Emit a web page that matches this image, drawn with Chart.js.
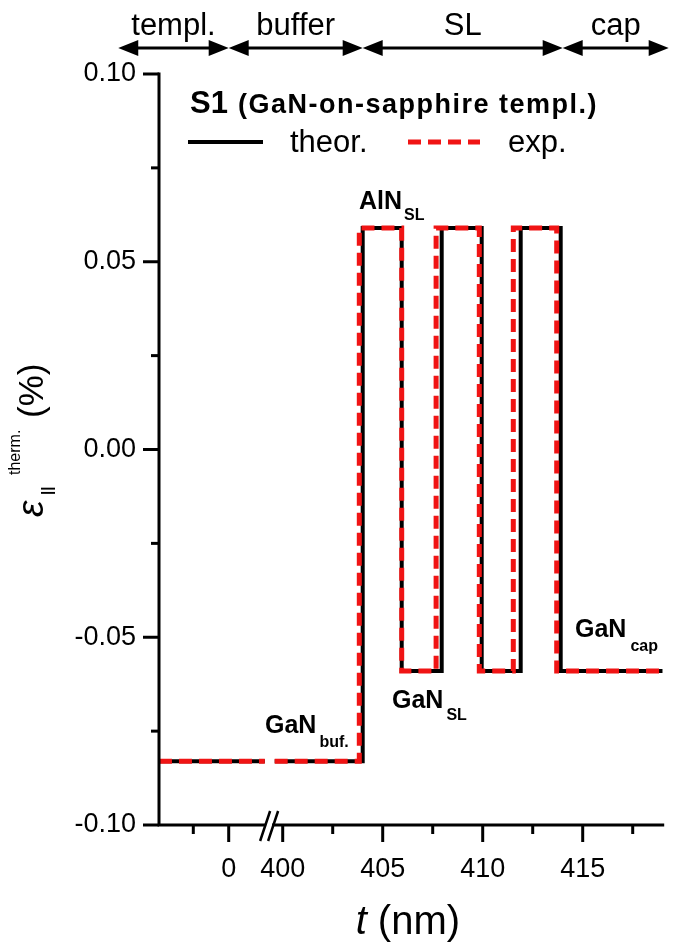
<!DOCTYPE html>
<html>
<head>
<meta charset="utf-8">
<script src="https://cdn.jsdelivr.net/npm/chart.js@4.4.0/dist/chart.umd.min.js"></script>
<style>
  html, body { margin: 0; padding: 0; background: #fff; }
  #wrap { width: 685px; height: 950px; position: relative; }
</style>
</head>
<body>
<div id="wrap"><canvas id="chart"></canvas></div>
<script>
// step profiles: t (nm) where a layer starts, and its strain (%)
// null strain = gap in the line at the axis break
const theorT = [-197, 102, 399.3, 399.6, 404.0, 405.95, 407.95, 409.95, 411.9, 413.9, 419.0];
const theorE = [-0.083, -0.083, null, -0.083, 0.059, -0.059, 0.059, -0.059, 0.059, -0.059, -0.059];
const expT   = [-197, 102, 399.3, 399.6, 403.83, 405.95, 407.67, 409.83, 411.53, 413.7, 419.0];
const expE   = [-0.083, -0.083, null, -0.083, 0.059, -0.059, 0.059, -0.059, 0.059, -0.059, -0.059];

const xMajor = [0, 400, 405, 410, 415];
const xMinor = [-100, 402.5, 407.5, 412.5, 417.5];
const yMajor = [-0.10, -0.05, 0.00, 0.05, 0.10];
const yMinor = [-0.075, -0.025, 0.025, 0.075];

const regionNames = ['templ.', 'buffer', 'SL', 'cap'];
const regionEdges = [-312, 0, 404, 414, 419.3];

// broken axis: template part is compressed, right part is in nm
const LEFT_ZERO = 397.3, LEFT_SCALE = 0.0177, SPLIT = 200;
const BREAK_U = 399.32;
function toAxis(t) { return t > SPLIT ? t : LEFT_ZERO + t * LEFT_SCALE; }

const F = "'Liberation Sans', Arial, sans-serif";
const RED = '#f01414';

function pts(ts, es) {
  return ts.map((t, i) => ({ x: toAxis(t), y: es[i] }));
}

function rich(ctx, x, y, parts) {
  ctx.textAlign = 'left';
  ctx.textBaseline = 'alphabetic';
  parts.forEach(p => {
    ctx.font = p.font;
    ctx.letterSpacing = p.ls || '0px';
    x += p.gap || 0;
    ctx.fillText(p.s, x, y + (p.dy || 0));
    x += ctx.measureText(p.s).width;
  });
  ctx.letterSpacing = '0px';
  return x;
}

function head(ctx, x, y, dir) {
  ctx.beginPath();
  ctx.moveTo(x, y);
  ctx.lineTo(x - dir * 20, y - 8);
  ctx.lineTo(x - dir * 20, y + 8);
  ctx.closePath();
  ctx.fill();
}

const decor = {
  id: 'decor',
  afterDraw(chart) {
    const ctx = chart.ctx;
    const xs = chart.scales.x, ys = chart.scales.y;
    const { left, right, top, bottom } = chart.chartArea;
    ctx.save();
    ctx.fillStyle = '#000';
    ctx.strokeStyle = '#000';
    ctx.lineCap = 'square';
    ctx.lineWidth = 3;

    // axes
    ctx.beginPath();
    ctx.moveTo(left, top); ctx.lineTo(left, bottom); ctx.lineTo(right, bottom);
    ctx.stroke();
    ctx.lineCap = 'butt';
    ys.ticks.forEach(tk => {
      const y = ys.getPixelForValue(tk.value);
      const len = tk.major ? 16 : 8;
      ctx.beginPath(); ctx.moveTo(left, y); ctx.lineTo(left - len, y); ctx.stroke();
    });
    xs.ticks.forEach(tk => {
      const x = xs.getPixelForValue(tk.value);
      const len = tk.major ? 17 : 9;
      ctx.beginPath(); ctx.moveTo(x, bottom); ctx.lineTo(x, bottom + len); ctx.stroke();
    });

    // axis break //
    const bx = xs.getPixelForValue(BREAK_U);
    ctx.fillStyle = '#fff';
    ctx.fillRect(bx - 3, bottom - 3, 6, 6);
    ctx.fillStyle = '#000';
    ctx.lineWidth = 2.5;
    [-4, 4].forEach(d => {
      ctx.beginPath();
      ctx.moveTo(bx + d - 5, bottom + 16);
      ctx.lineTo(bx + d + 5, bottom - 14);
      ctx.stroke();
    });

    // region arrows on top
    const ay = 48;
    ctx.lineWidth = 3;
    for (let i = 0; i < regionNames.length; i++) {
      const x0 = xs.getPixelForValue(toAxis(regionEdges[i]));
      const x1 = xs.getPixelForValue(toAxis(regionEdges[i + 1]));
      ctx.beginPath(); ctx.moveTo(x0 + 10, ay); ctx.lineTo(x1 - 10, ay); ctx.stroke();
      head(ctx, x0, ay, -1);
      head(ctx, x1, ay, 1);
      ctx.font = `31px ${F}`;
      ctx.textAlign = 'center';
      ctx.textBaseline = 'alphabetic';
      ctx.fillText(regionNames[i], (x0 + x1) / 2, 35);
    }

    // title + legend
    rich(ctx, 190, 113, [
      { s: 'S1', font: `bold 31px ${F}` },
      { s: '(GaN-on-sapphire templ.)', font: `bold 27px ${F}`, gap: 10, ls: '1.5px' }
    ]);
    ctx.lineWidth = 4;
    ctx.beginPath(); ctx.moveTo(188, 142); ctx.lineTo(263, 142); ctx.stroke();
    ctx.font = `31px ${F}`;
    ctx.fillText('theor.', 290, 152);
    ctx.strokeStyle = RED;
    ctx.lineWidth = 5;
    ctx.setLineDash([13, 7]);
    ctx.beginPath(); ctx.moveTo(408, 142); ctx.lineTo(480, 142); ctx.stroke();
    ctx.setLineDash([]);
    ctx.fillText('exp.', 508, 152);

    // layer labels
    const big = `bold 25px ${F}`, sub = `bold 16px ${F}`;
    rich(ctx, 359, 209, [{ s: 'AlN', font: big }, { s: 'SL', font: sub, dy: 11, gap: 2 }]);
    rich(ctx, 265, 733, [{ s: 'GaN', font: big }, { s: 'buf.', font: sub, dy: 14, gap: 3 }]);
    rich(ctx, 392, 708, [{ s: 'GaN', font: big }, { s: 'SL', font: sub, dy: 12, gap: 3 }]);
    rich(ctx, 575, 637, [{ s: 'GaN', font: big }, { s: 'cap', font: sub, dy: 14, gap: 4 }]);

    // x title
    ctx.font = `italic 40px ${F}`;
    const wT = ctx.measureText('t').width;
    ctx.font = `40px ${F}`;
    const wR = ctx.measureText(' (nm)').width;
    const xt = (left + right) / 2 - (wT + wR) / 2 - 3;
    rich(ctx, xt, 934, [{ s: 't', font: `italic 40px ${F}` }, { s: ' (nm)', font: `40px ${F}` }]);

    // y title
    ctx.save();
    ctx.translate(43, 517);
    ctx.rotate(-Math.PI / 2);
    ctx.font = `italic 37px ${F}`;
    ctx.fillText('ε', 0, 0);
    ctx.font = `bold 15px ${F}`;
    ctx.fillText('||', 22, 9);
    ctx.font = `16px ${F}`;
    ctx.fillText('therm.', 42, -23);
    ctx.font = `35px ${F}`;
    ctx.fillText('(%)', 99, 0);
    ctx.restore();

    ctx.restore();
  }
};

function majorMinor(major, minor, map) {
  return [...major.map(v => ({ value: map(v), major: true, lbl: v })),
          ...minor.map(v => ({ value: map(v), major: false, lbl: '' }))]
    .sort((a, b) => a.value - b.value);
}

new Chart(document.getElementById('chart'), {
  type: 'line',
  data: {
    datasets: [
      {
        label: 'exp.',
        data: pts(expT, expE),
        borderColor: RED,
        borderWidth: 5,
        borderDash: [13, 7],
        stepped: 'before',
        pointRadius: 0,
        spanGaps: false,
        order: 0
      },
      {
        label: 'theor.',
        data: pts(theorT, theorE),
        borderColor: '#000',
        borderWidth: 4,
        stepped: 'before',
        pointRadius: 0,
        spanGaps: false,
        order: 1
      }
    ]
  },
  options: {
    responsive: true,
    maintainAspectRatio: false,
    animation: false,
    events: [],
    layout: { padding: { left: 0, right: 685 - 662.7, top: 74, bottom: 0 } },
    plugins: { legend: { display: false }, tooltip: { enabled: false } },
    scales: {
      x: {
        type: 'linear',
        min: toAxis(-196.9),
        max: 419.0,
        afterBuildTicks: s => { s.ticks = majorMinor(xMajor, xMinor, toAxis); },
        afterFit: s => { s.height = 125; },
        grid: { display: false, drawTicks: false },
        border: { display: false },
        ticks: {
          autoSkip: false,
          maxRotation: 0,
          padding: 28,
          color: '#000',
          font: { family: F, size: 27 },
          callback: (v, i, ticks) => ticks[i].lbl === '' ? '' : String(ticks[i].lbl)
        }
      },
      y: {
        type: 'linear',
        min: -0.10,
        max: 0.10,
        afterBuildTicks: s => { s.ticks = majorMinor(yMajor, yMinor, v => v); },
        afterFit: s => { s.width = 159; },
        grid: { display: false, drawTicks: false },
        border: { display: false },
        ticks: {
          autoSkip: false,
          padding: 23,
          color: '#000',
          font: { family: F, size: 27 },
          callback: (v, i, ticks) => ticks[i].lbl === '' ? '' : Number(ticks[i].lbl).toFixed(2)
        }
      }
    }
  },
  plugins: [decor]
});
</script>
</body>
</html>
